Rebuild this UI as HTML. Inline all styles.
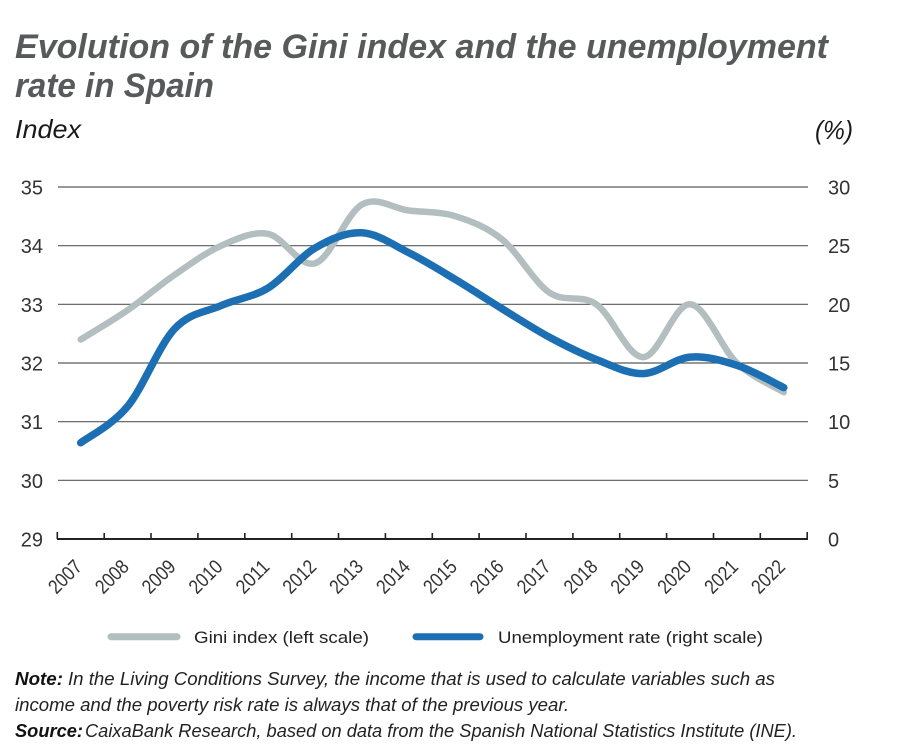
<!DOCTYPE html>
<html>
<head>
<meta charset="utf-8">
<style>
  html, body { margin: 0; padding: 0; background: #ffffff; }
  body { width: 900px; height: 751px; overflow: hidden; }
  svg { display: block; }
  text { font-family: "Liberation Sans", "DejaVu Sans", sans-serif; }
</style>
</head>
<body>
<svg width="900" height="751" viewBox="0 0 900 751" xmlns="http://www.w3.org/2000/svg">
  <rect width="900" height="751" fill="#ffffff"/>

  <!-- Title -->
  <text x="15" y="58" font-size="34" font-weight="bold" font-style="italic" fill="#58595b" textLength="813" lengthAdjust="spacingAndGlyphs">Evolution of the Gini index and the unemployment</text>
  <text x="15" y="97" font-size="34" font-weight="bold" font-style="italic" fill="#58595b" textLength="199" lengthAdjust="spacingAndGlyphs">rate in Spain</text>

  <!-- Axis titles -->
  <text x="15" y="138" font-size="26" font-style="italic" fill="#1a1a1a" textLength="66" lengthAdjust="spacingAndGlyphs">Index</text>
  <text x="815" y="139" font-size="26" font-style="italic" fill="#1a1a1a" textLength="38" lengthAdjust="spacingAndGlyphs">(%)</text>

  <!-- Gridlines -->
  <g stroke="#5a5a5a" stroke-width="1.2">
    <line x1="58" y1="187" x2="808" y2="187"/>
    <line x1="58" y1="245.7" x2="808" y2="245.7"/>
    <line x1="58" y1="304.3" x2="808" y2="304.3"/>
    <line x1="58" y1="363" x2="808" y2="363"/>
    <line x1="58" y1="421.7" x2="808" y2="421.7"/>
    <line x1="58" y1="480.3" x2="808" y2="480.3"/>
  </g>

  <!-- Baseline axis and ticks -->
  <g stroke="#222" stroke-width="2">
    <line x1="57" y1="539" x2="808" y2="539"/>
  </g>
  <g stroke="#222" stroke-width="1.6">
    <line x1="57.3" y1="532" x2="57.3" y2="539"/>
    <line x1="104.2" y1="533" x2="104.2" y2="539"/>
    <line x1="151.0" y1="533" x2="151.0" y2="539"/>
    <line x1="197.9" y1="533" x2="197.9" y2="539"/>
    <line x1="244.8" y1="533" x2="244.8" y2="539"/>
    <line x1="291.7" y1="533" x2="291.7" y2="539"/>
    <line x1="338.5" y1="533" x2="338.5" y2="539"/>
    <line x1="385.4" y1="533" x2="385.4" y2="539"/>
    <line x1="432.3" y1="533" x2="432.3" y2="539"/>
    <line x1="479.1" y1="533" x2="479.1" y2="539"/>
    <line x1="526.0" y1="533" x2="526.0" y2="539"/>
    <line x1="572.9" y1="533" x2="572.9" y2="539"/>
    <line x1="619.7" y1="533" x2="619.7" y2="539"/>
    <line x1="666.6" y1="533" x2="666.6" y2="539"/>
    <line x1="713.5" y1="533" x2="713.5" y2="539"/>
    <line x1="760.3" y1="533" x2="760.3" y2="539"/>
    <line x1="807.2" y1="532" x2="807.2" y2="539"/>
  </g>

  <!-- Left axis labels -->
  <g font-size="20" fill="#333" text-anchor="end">
    <text x="43" y="194.5">35</text>
    <text x="43" y="253.2">34</text>
    <text x="43" y="311.8">33</text>
    <text x="43" y="370.5">32</text>
    <text x="43" y="429.2">31</text>
    <text x="43" y="487.8">30</text>
    <text x="43" y="546.5">29</text>
  </g>

  <!-- Right axis labels -->
  <g font-size="20" fill="#333" text-anchor="start">
    <text x="828" y="194.5">30</text>
    <text x="828" y="253.2">25</text>
    <text x="828" y="311.8">20</text>
    <text x="828" y="370.5">15</text>
    <text x="828" y="429.2">10</text>
    <text x="828" y="487.8">5</text>
    <text x="828" y="546.5">0</text>
  </g>

  <!-- X axis labels -->
  <g font-size="20" fill="#333" text-anchor="end">
    <text transform="translate(83.2,568) rotate(-45)" textLength="38" lengthAdjust="spacingAndGlyphs">2007</text>
    <text transform="translate(130.1,568) rotate(-45)" textLength="38" lengthAdjust="spacingAndGlyphs">2008</text>
    <text transform="translate(176.9,568) rotate(-45)" textLength="38" lengthAdjust="spacingAndGlyphs">2009</text>
    <text transform="translate(223.8,568) rotate(-45)" textLength="38" lengthAdjust="spacingAndGlyphs">2010</text>
    <text transform="translate(270.7,568) rotate(-45)" textLength="38" lengthAdjust="spacingAndGlyphs">2011</text>
    <text transform="translate(317.6,568) rotate(-45)" textLength="38" lengthAdjust="spacingAndGlyphs">2012</text>
    <text transform="translate(364.4,568) rotate(-45)" textLength="38" lengthAdjust="spacingAndGlyphs">2013</text>
    <text transform="translate(411.3,568) rotate(-45)" textLength="38" lengthAdjust="spacingAndGlyphs">2014</text>
    <text transform="translate(458.2,568) rotate(-45)" textLength="38" lengthAdjust="spacingAndGlyphs">2015</text>
    <text transform="translate(505.0,568) rotate(-45)" textLength="38" lengthAdjust="spacingAndGlyphs">2016</text>
    <text transform="translate(551.9,568) rotate(-45)" textLength="38" lengthAdjust="spacingAndGlyphs">2017</text>
    <text transform="translate(598.8,568) rotate(-45)" textLength="38" lengthAdjust="spacingAndGlyphs">2018</text>
    <text transform="translate(645.6,568) rotate(-45)" textLength="38" lengthAdjust="spacingAndGlyphs">2019</text>
    <text transform="translate(692.5,568) rotate(-45)" textLength="38" lengthAdjust="spacingAndGlyphs">2020</text>
    <text transform="translate(739.4,568) rotate(-45)" textLength="38" lengthAdjust="spacingAndGlyphs">2021</text>
    <text transform="translate(786.3,568) rotate(-45)" textLength="38" lengthAdjust="spacingAndGlyphs">2022</text>
  </g>

  <!-- Gini index series -->
  <path fill="none" stroke="#b3bec1" stroke-width="6.5" stroke-linecap="round" stroke-linejoin="round"
    d="M80.7,339.5
       C88.5,334.6 112.0,320.95 127.6,310.2
       C143.2,299.45 158.8,285.75 174.4,275.0
       C190.0,264.25 205.7,252.55 221.3,245.7
       C236.9,238.85 252.6,230.97 268.2,233.9
       C283.8,236.83 299.5,268.18 315.1,263.3
       C330.7,258.42 346.3,213.4 361.9,204.6
       C377.5,195.8 393.2,208.55 408.8,210.5
       C424.4,212.45 440.1,211.42 455.7,216.3
       C471.3,221.18 486.9,227.08 502.5,239.8
       C518.1,252.52 533.8,281.85 549.4,292.6
       C565.0,303.35 580.7,293.55 596.3,304.3
       C611.9,315.05 627.5,357.1 643.1,357.1
       C658.7,357.1 674.4,303.32 690.0,304.3
       C705.6,305.28 721.3,348.33 736.9,363.0
       C752.5,377.67 776.0,387.42 783.8,392.3"/>

  <!-- Unemployment series -->
  <path fill="none" stroke="#1c6fb3" stroke-width="7.5" stroke-linecap="round" stroke-linejoin="round"
    d="M80.7,442.8
       C88.5,436.73 112.0,425.37 127.6,406.4
       C143.2,387.43 158.8,345.82 174.4,329.0
       C190.0,312.18 205.7,312.35 221.3,305.5
       C236.9,298.65 252.6,297.48 268.2,287.9
       C283.8,278.32 299.5,257.18 315.1,248.0
       C330.7,238.82 346.3,232.02 361.9,232.8
       C377.5,233.58 393.2,244.88 408.8,252.7
       C424.4,260.52 440.1,270.32 455.7,279.7
       C471.3,289.08 486.9,299.42 502.5,309.0
       C518.1,318.58 533.8,328.78 549.4,337.2
       C565.0,345.62 580.7,353.43 596.3,359.5
       C611.9,365.57 627.5,374.0 643.1,373.6
       C658.7,373.2 674.4,358.48 690.0,357.1
       C705.6,355.72 721.3,360.22 736.9,365.3
       C752.5,370.38 776.0,383.88 783.8,387.6"/>

  <!-- Legend -->
  <line x1="111" y1="636.7" x2="177" y2="636.7" stroke="#b3bec1" stroke-width="7" stroke-linecap="round"/>
  <text x="194" y="643" font-size="17" fill="#222" textLength="175" lengthAdjust="spacingAndGlyphs">Gini index (left scale)</text>
  <line x1="416" y1="636.7" x2="480" y2="636.7" stroke="#1c6fb3" stroke-width="7" stroke-linecap="round"/>
  <text x="498" y="643" font-size="17" fill="#222" textLength="265" lengthAdjust="spacingAndGlyphs">Unemployment rate (right scale)</text>

  <!-- Notes -->
  <text x="15" y="685" font-size="18" font-weight="bold" font-style="italic" fill="#111" textLength="48" lengthAdjust="spacingAndGlyphs">Note:</text>
  <text x="68" y="685" font-size="18" font-style="italic" fill="#222" textLength="707" lengthAdjust="spacingAndGlyphs">In the Living Conditions Survey, the income that is used to calculate variables such as</text>
  <text x="15" y="711" font-size="18" font-style="italic" fill="#222" textLength="554" lengthAdjust="spacingAndGlyphs">income and the poverty risk rate is always that of the previous year.</text>
  <text x="15" y="737" font-size="18" font-weight="bold" font-style="italic" fill="#111" textLength="68" lengthAdjust="spacingAndGlyphs">Source:</text>
  <text x="85" y="737" font-size="18" font-style="italic" fill="#222" textLength="712" lengthAdjust="spacingAndGlyphs">CaixaBank Research, based on data from the Spanish National Statistics Institute (INE).</text>
</svg>
</body>
</html>
